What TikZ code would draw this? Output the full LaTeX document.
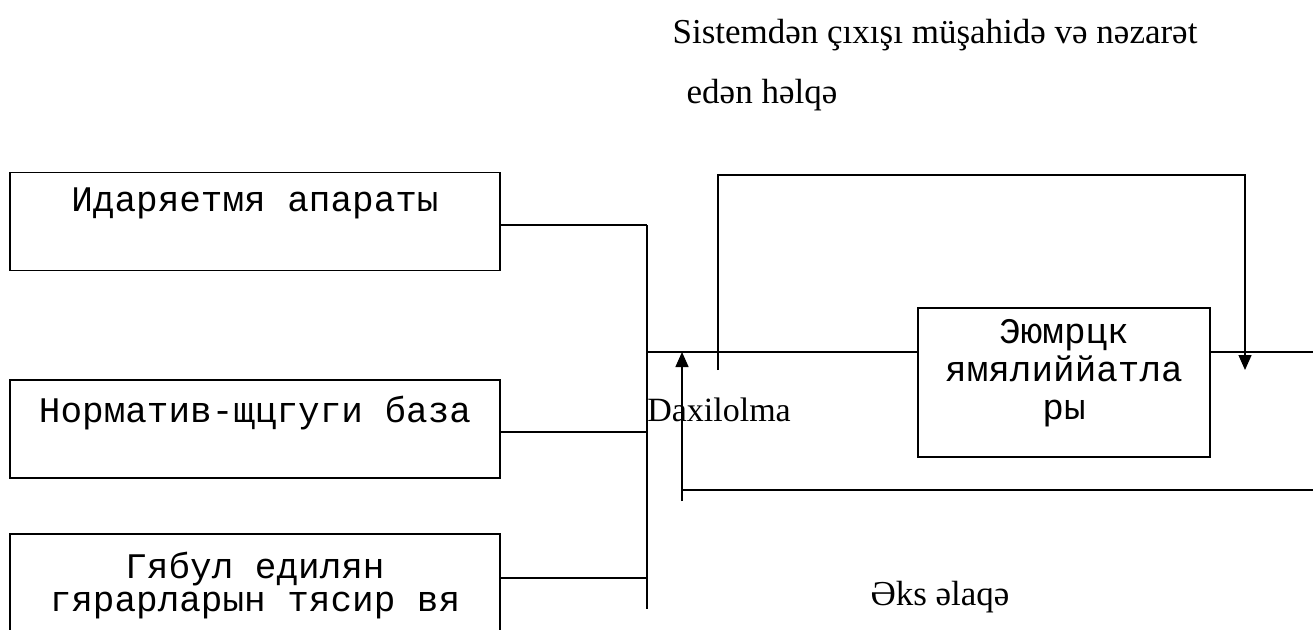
\documentclass[tikz,border=0pt]{standalone}
\usepackage{fontspec}
\setmainfont{Liberation Serif}
\newfontfamily\monofam{Liberation Mono}
\usetikzlibrary{arrows.meta}
\begin{document}
\begin{tikzpicture}[x=1pt,y=-1pt,
  line width=1.4pt,
  box/.style={draw,line width=1.4pt,minimum width=490pt,inner sep=0pt},
  monotext/.style={font=\monofam\fontsize{36}{38}\selectfont,align=center,inner sep=0pt},
  serif/.style={font=\fontsize{35}{38}\selectfont,align=center,inner sep=0pt},
  arr/.style={-{Triangle[length=15pt,width=13pt]}}]
\clip (0,0) rectangle (1313,629);
\fill[white] (0,0) rectangle (1313,629);
% left boxes
\node[box,minimum height=98pt] (b1) at (255,221.5) {};
\node[monotext] (t1) at (255,203) {Идаряетмя апараты};
\node[box,minimum height=98pt] (b2) at (255,429) {};
\node[monotext] (t2) at (255,413) {Норматив-щцгуги база};
\node[box,minimum height=140pt] (b3) at (255,604) {};
\node[monotext] (t3a) at (255,569) {Гябул едилян};
\node[monotext] (t3b) at (255,606) {гярарларын тясир вя};
% right box
\node[draw,line width=1.4pt,minimum width=292pt,minimum height=149pt,inner sep=0pt] (b4) at (1064,382.5) {};
\node[monotext] (t4) at (1064,373) {Эюмрцк\\ямялиййатла\\ры};
% labels
\node[serif] (top1) at (935,35) {Sistemdən çıxışı müşahidə və nəzarət};
\node[serif] (top2) at (762,95) {edən həlqə};
\node[font=\fontsize{34}{36}\selectfont,inner sep=0pt] (dax) at (719,410) {Daxilolma};
\node[serif] (eks) at (940,597) {Əks əlaqə};
% coordinates
\coordinate (j1) at (647,225);
\coordinate (j2) at (647,432);
\coordinate (j3) at (647,578);
\coordinate (busend) at (647,609);
\coordinate (m0) at (647,352);
\coordinate (mout) at (1313,352);
\coordinate (l0) at (718,370);
\coordinate (l1) at (718,175);
\coordinate (l2) at (1245,175);
\coordinate (l3) at (1245,370);
\coordinate (f0) at (1313,490);
\coordinate (f1) at (682,490);
\coordinate (f2) at (682,501);
\coordinate (f3) at (682,352);
% connectors
\draw (b1.east |- j1) -- (j1);
\draw (b2.east |- j2) -- (j2);
\draw (b3.east |- j3) -- (j3);
\draw (j1) -- (busend);
\draw (m0) -- (b4.west |- m0);
\draw (b4.east |- mout) -- (mout);
\draw[arr] (l0) -- (l1) -- (l2) -- (l3);
\draw (f0) -- (f1);
\draw[arr] (f2) -- (f3);
\end{tikzpicture}
\end{document}
